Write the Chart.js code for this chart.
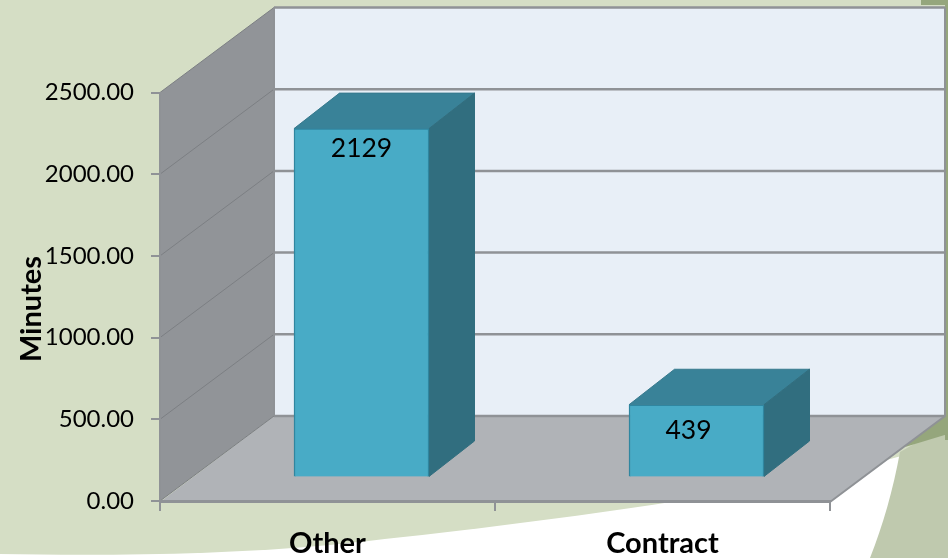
<!DOCTYPE html>
<html><head><meta charset="utf-8">
<style>html,body{margin:0;padding:0;background:#fff}canvas{display:block}</style>
<script src="https://cdn.jsdelivr.net/npm/chart.js@4"></script>
</head><body>
<div style="width:948px;height:558px"><canvas id="c" width="948" height="558"></canvas></div>
<script>
const categories = ["Other", "Contract"];
const minutes = [2129, 439];
const yTickStep = 500;
const yMax = 2500;
const yTitle = "Minutes";

const FONT = "Lato, 'Open Sans', sans-serif";
const DEPTH = {dx: 114, dy: 85};
const BAR_DEPTH = {dx: 45.5, dy: 35.5};
const GRID = "#8f9296";
const WALL_GRID = "#7c7f83";
const LABEL_SHIFT = [{dx: 0, dy: 20}, {dx: -8, dy: 26}];

const scene = {
  id: "scene",
  beforeDraw(chart) {
    const {ctx, scales: {y}} = chart;
    const w = chart.width, h = chart.height;
    ctx.save();
    ctx.fillStyle = "#ffffff"; ctx.fillRect(0, 0, w, h);
    // green page background
    ctx.fillStyle = "#d5dec5";
    ctx.beginPath(); ctx.moveTo(0, 0); ctx.lineTo(w, 0); ctx.lineTo(w, 440); ctx.lineTo(905, 455);
    ctx.bezierCurveTo(760, 495, 520, 525, 330, 545);
    ctx.bezierCurveTo(220, 555, 100, 556, 0, 554);
    ctx.closePath(); ctx.fill();
    // darker right band
    ctx.fillStyle = "#bfc9ae";
    ctx.beginPath(); ctx.moveTo(w, 425); ctx.lineTo(900, 452); ctx.bezierCurveTo(893, 490, 883, 525, 870, h);
    ctx.lineTo(w, h); ctx.closePath(); ctx.fill();
    ctx.fillStyle = "#95a67c";
    ctx.fillRect(921, 0, 27, 5); ctx.fillRect(945, 0, 3, 440);
    ctx.beginPath(); ctx.moveTo(w, 405); ctx.lineTo(w, 434); ctx.lineTo(905, 447); ctx.lineTo(925, 425); ctx.closePath(); ctx.fill();

    const L = 160;
    const R = chart.chartArea.right;
    const y0 = y.getPixelForValue(0), yT = y.getPixelForValue(yMax);
    const B = L + DEPTH.dx, backR = R + DEPTH.dx + 1;
    // back wall
    ctx.fillStyle = "#e8eff7";
    ctx.fillRect(B, yT - DEPTH.dy, backR - B, y0 - yT);
    // left wall
    ctx.fillStyle = "#919498";
    ctx.beginPath(); ctx.moveTo(L, y0); ctx.lineTo(L, yT); ctx.lineTo(B, yT - DEPTH.dy); ctx.lineTo(B, y0 - DEPTH.dy); ctx.closePath(); ctx.fill();
    // floor
    ctx.fillStyle = "#b0b3b7";
    ctx.beginPath(); ctx.moveTo(L, y0 + 1); ctx.lineTo(B, y0 - DEPTH.dy); ctx.lineTo(backR, y0 - DEPTH.dy); ctx.lineTo(R, y0 + 1); ctx.closePath(); ctx.fill();
    // grid lines wrapping left wall and back wall
    for (let v = 0; v <= yMax; v += yTickStep) {
      const p = y.getPixelForValue(v);
      ctx.strokeStyle = WALL_GRID;
      ctx.lineWidth = 1;
      ctx.beginPath(); ctx.moveTo(L, p); ctx.lineTo(B, p - DEPTH.dy); ctx.stroke();
      ctx.strokeStyle = GRID;
      ctx.lineWidth = 2.5;
      ctx.beginPath(); ctx.moveTo(B, p - DEPTH.dy); ctx.lineTo(backR, p - DEPTH.dy); ctx.stroke();
    }
    // wall edges
    ctx.strokeStyle = GRID; ctx.lineWidth = 2;
    ctx.beginPath(); ctx.moveTo(B, yT - DEPTH.dy); ctx.lineTo(B, y0 - DEPTH.dy); ctx.stroke();
    ctx.beginPath(); ctx.moveTo(backR, yT - DEPTH.dy); ctx.lineTo(backR, y0 - DEPTH.dy); ctx.lineTo(R, y0 + 1); ctx.stroke();
    ctx.restore();
  },
  beforeDatasetsDraw(chart) {
    // top and side faces of the bars, taken from the bar elements
    const {ctx} = chart;
    ctx.save();
    chart.getDatasetMeta(0).data.forEach(bar => {
      const half = bar.width / 2, l = bar.x - half, r = bar.x + half, t = bar.y, b = bar.base;
      const {dx, dy} = BAR_DEPTH;
      ctx.fillStyle = "#398298"; ctx.strokeStyle = "#37798d"; ctx.lineWidth = 1;
      ctx.beginPath(); ctx.moveTo(l, t); ctx.lineTo(l + dx, t - dy); ctx.lineTo(r + dx, t - dy); ctx.lineTo(r, t); ctx.closePath(); ctx.fill(); ctx.stroke();
      ctx.fillStyle = "#316e7f"; ctx.strokeStyle = "#316e7f";
      ctx.beginPath(); ctx.moveTo(r, t); ctx.lineTo(r + dx, t - dy); ctx.lineTo(r + dx, b - dy); ctx.lineTo(r, b); ctx.closePath(); ctx.fill(); ctx.stroke();
    });
    ctx.restore();
  },
  afterDatasetsDraw(chart) {
    const {ctx} = chart;
    ctx.save();
    ctx.fillStyle = "#000"; ctx.textAlign = "center"; ctx.textBaseline = "middle";
    ctx.font = "26.5px " + FONT;
    chart.getDatasetMeta(0).data.forEach((bar, i) => {
      ctx.fillText(String(minutes[i]), bar.x + LABEL_SHIFT[i].dx, bar.y + LABEL_SHIFT[i].dy);
    });
    ctx.translate(32, 309); ctx.rotate(-Math.PI / 2);
    ctx.font = "bold 29px " + FONT;
    ctx.fillText(yTitle, 0, 0);
    ctx.restore();
  }
};

new Chart(document.getElementById("c"), {
  type: "bar",
  data: {
    labels: categories,
    datasets: [{
      label: yTitle,
      data: categories.map((c, i) => ({x: i, y: minutes[i]})),
      xAxisID: "xBars",
      yAxisID: "yBars",
      backgroundColor: "#48abc6",
      borderColor: "#2f86a0",
      borderWidth: 1.5,
      barThickness: 135
    }]
  },
  options: {
    responsive: false,
    animation: false,
    devicePixelRatio: 1,
    layout: {padding: {left: 0, right: 118, top: 92.5, bottom: 0}},
    plugins: {legend: {display: false}, tooltip: {enabled: false}},
    scales: {
      x: {
        type: "category",
        offset: true,
        afterFit(s) { s.height = 57; },
        grid: {display: true, drawOnChartArea: false, offset: true, tickLength: 10, color: GRID, lineWidth: 2},
        border: {display: true, color: GRID, width: 3},
        ticks: {color: "#000", font: {family: FONT, size: 29, weight: "bold"}, padding: 15, maxRotation: 0}
      },
      y: {
        type: "linear", min: 0, max: yMax,
        afterFit(s) { s.width = 160; },
        grid: {display: true, drawOnChartArea: false, tickLength: 9, color: GRID, lineWidth: 2},
        border: {display: true, color: GRID, width: 2},
        ticks: {stepSize: yTickStep, color: "#000", font: {family: FONT, size: 24},
                padding: 17, callback: v => Number(v).toFixed(2)}
      },
      xBars: {type: "linear", display: false, offset: false, grid: {offset: false}, min: -0.6015, max: 1.3985},
      yBars: {type: "linear", display: false, min: -150, max: 2350}
    }
  },
  plugins: [scene]
});
</script>
</body></html>
